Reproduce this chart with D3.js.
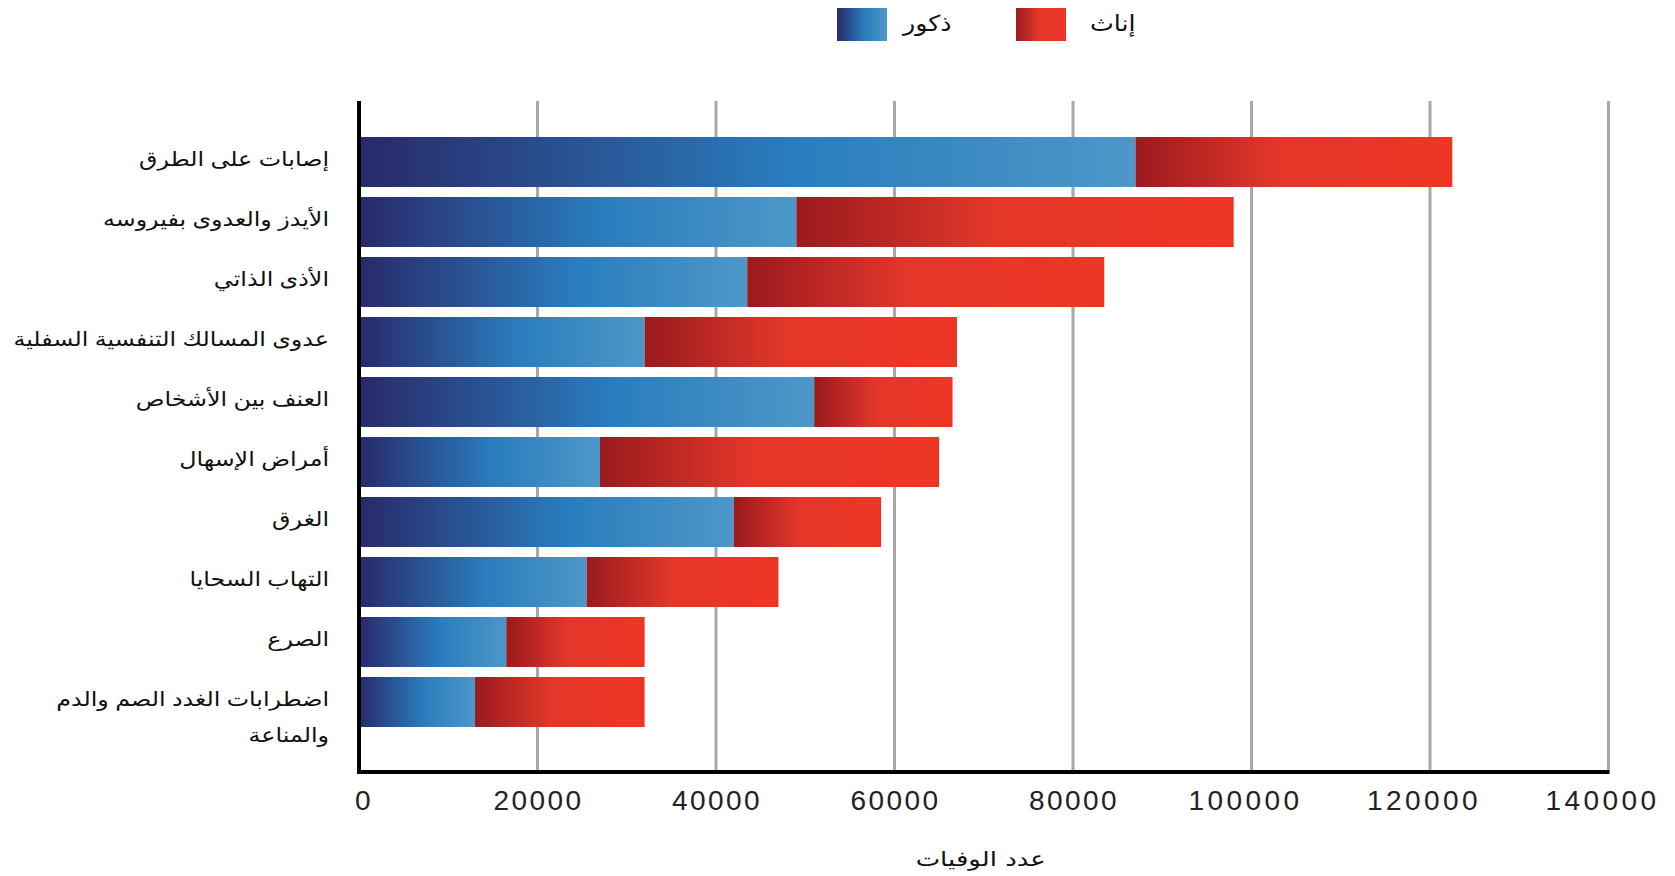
<!DOCTYPE html>
<html>
<head>
<meta charset="utf-8">
<script src="https://cdn.jsdelivr.net/npm/d3@7"></script>
<style>
  html, body { margin: 0; padding: 0; background: #fff; }
  svg { display: block; }
</style>
</head>
<body>
<svg id="chart" width="1675" height="876"></svg>
<script>
const categories = [
  "إصابات على الطرق",
  "الأيدز والعدوى بفيروسه",
  "الأذى الذاتي",
  "عدوى المسالك التنفسية السفلية",
  "العنف بين الأشخاص",
  "أمراض الإسهال",
  "الغرق",
  "التهاب السحايا",
  "الصرع",
  "اضطرابات الغدد الصم والدم والمناعة"
];
const categoryLines = [
  ["إصابات على الطرق"],
  ["الأيدز والعدوى بفيروسه"],
  ["الأذى الذاتي"],
  ["عدوى المسالك التنفسية السفلية"],
  ["العنف بين الأشخاص"],
  ["أمراض الإسهال"],
  ["الغرق"],
  ["التهاب السحايا"],
  ["الصرع"],
  ["اضطرابات الغدد الصم والدم", "والمناعة"]
];
const males   = [87000, 49000, 43500, 32000, 51000, 27000, 42000, 25500, 16500, 13000];
const females = [35500, 49000, 40000, 35000, 15500, 38000, 16500, 21500, 15500, 19000];
const xTicks = [0, 20000, 40000, 60000, 80000, 100000, 120000, 140000];
const seriesNames = ["ذكور", "إناث"];
const xTitle = "عدد الوفيات";

const svg = d3.select("#chart");
const defs = svg.append("defs");

const blue = defs.append("linearGradient").attr("id", "gBlue")
  .attr("x1", "0%").attr("x2", "100%").attr("y1", "0%").attr("y2", "0%");
blue.append("stop").attr("offset", "0%").attr("stop-color", "#28296a");
blue.append("stop").attr("offset", "55%").attr("stop-color", "#2a7cbd");
blue.append("stop").attr("offset", "100%").attr("stop-color", "#4d97c9");

const red = defs.append("linearGradient").attr("id", "gRed")
  .attr("x1", "0%").attr("x2", "100%").attr("y1", "0%").attr("y2", "0%");
red.append("stop").attr("offset", "0%").attr("stop-color", "#9a1a1e");
red.append("stop").attr("offset", "45%").attr("stop-color", "#e3372a");
red.append("stop").attr("offset", "100%").attr("stop-color", "#ee3524");

const plotTop = 101, plotBottom = 772;
const x = d3.scaleLinear().domain([0, 140000]).range([359, 1608.5]);
const y = d3.scaleBand().domain(categories).range([132, 732])
  .paddingInner(1/6).paddingOuter(1/12);

// gridlines
svg.append("g").selectAll("line")
  .data(xTicks.filter(d => d > 0))
  .join("line")
  .attr("x1", d => x(d)).attr("x2", d => x(d))
  .attr("y1", plotTop).attr("y2", plotBottom)
  .attr("stroke", "#a8a8a8").attr("stroke-width", 3);

// bars
const rows = categories.map((c, i) => ({c, m: males[i], f: females[i]}));
svg.append("g").selectAll("rect.m").data(rows).join("rect")
  .attr("x", x(0)).attr("y", d => y(d.c))
  .attr("width", d => x(d.m) - x(0)).attr("height", y.bandwidth())
  .attr("fill", "url(#gBlue)");
svg.append("g").selectAll("rect.f").data(rows).join("rect")
  .attr("x", d => x(d.m)).attr("y", d => y(d.c))
  .attr("width", d => x(d.m + d.f) - x(d.m)).attr("height", y.bandwidth())
  .attr("fill", "url(#gRed)");

// axes lines
svg.append("line").attr("x1", x(0)).attr("x2", x(0))
  .attr("y1", plotTop).attr("y2", plotBottom + 1.5)
  .attr("stroke", "#000").attr("stroke-width", 4);
svg.append("line").attr("x1", x(0) - 2).attr("x2", x(140000) + 1)
  .attr("y1", plotBottom).attr("y2", plotBottom)
  .attr("stroke", "#000").attr("stroke-width", 4);

// x tick labels
svg.append("g").selectAll("text").data(xTicks).join("text")
  .attr("x", d => x(d) + (d === 0 ? 5 : (d >= 100000 ? -6 : 1)))
  .attr("y", 810)
  .attr("text-anchor", "middle")
  .attr("font-family", "Liberation Sans, Arial, sans-serif")
  .attr("font-size", 28)
  .attr("letter-spacing", d => d >= 100000 ? 3.4 : 2.4)
  .attr("fill", "#222")
  .text(d => d);

// category labels (horizontally stretched like the reference)
const labG = svg.append("g").selectAll("g").data(rows).join("g")
  .attr("transform", d => `translate(329,${y(d.c) + y.bandwidth() / 2 + 4}) scale(1.19,1)`);
labG.each(function(d, i) {
  const t = d3.select(this).append("text")
    .attr("text-anchor", "end")
    .attr("font-family", "DejaVu Sans, sans-serif")
    .attr("font-size", 20)
    .attr("word-spacing", -1)
    .attr("fill", "#111");
  categoryLines[i].forEach((ln, k) => {
    t.append("tspan").attr("x", 0).attr("y", k * 36).text(ln);
  });
});

// x title
svg.append("g").attr("transform", `translate(${x(70000) - 3},866) scale(1.3,1)`)
  .append("text")
  .attr("text-anchor", "middle")
  .attr("font-family", "DejaVu Sans, sans-serif")
  .attr("font-size", 20).attr("fill", "#111")
  .text(xTitle);

// legend
const legend = [
  {name: seriesNames[0], fill: "url(#gBlue)", x: 837, tx: 903},
  {name: seriesNames[1], fill: "url(#gRed)", x: 1016, tx: 1090}
];
const lg = svg.append("g").selectAll("g").data(legend).join("g");
lg.append("rect").attr("x", d => d.x).attr("y", 8)
  .attr("width", 50).attr("height", 33).attr("fill", d => d.fill);
lg.append("g").attr("transform", d => `translate(${d.tx},31) scale(1.15,1)`)
  .append("text")
  .attr("text-anchor", "start")
  .attr("font-family", "DejaVu Sans, sans-serif")
  .attr("font-size", 22).attr("fill", "#111")
  .text(d => d.name);
</script>
</body>
</html>
